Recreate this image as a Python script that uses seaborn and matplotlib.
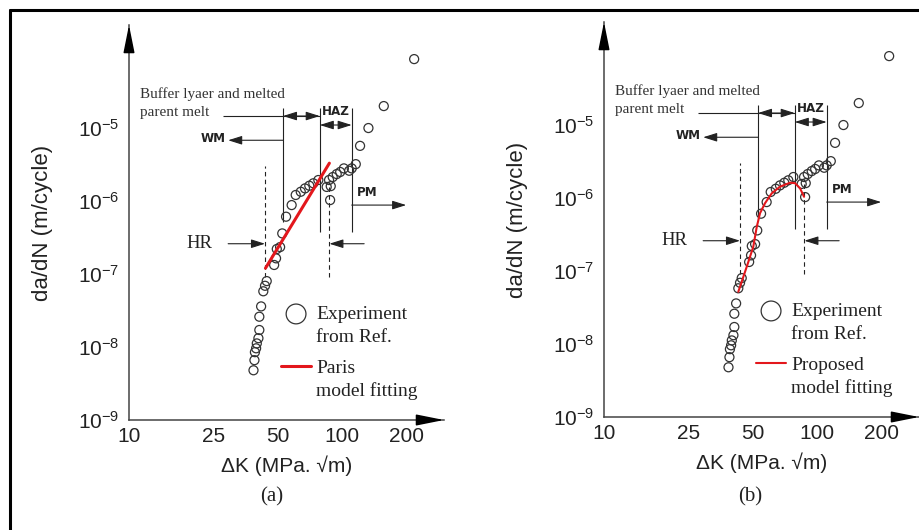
import matplotlib
matplotlib.use('Agg')
import matplotlib.pyplot as plt
import seaborn as sns
import pandas as pd
from matplotlib import font_manager
from matplotlib.lines import Line2D
from matplotlib.patches import Rectangle
from matplotlib.ticker import NullFormatter, NullLocator, LogFormatterSciNotation

# experimental crack growth data (same set in both panels)
delta_k = [38.4, 38.8, 39.0, 39.5, 39.8, 40.5, 40.9, 40.9, 41.7, 42.7,
           43.5, 44.3, 48.0, 49.0, 49.4, 51.2, 52.4, 54.6, 58.0, 60.6,
           64.0, 67.0, 70.2, 73.3, 77.4, 84.7, 86.9, 87.9, 88.5, 90.4,
           94.4, 98.0, 102, 108, 111, 116, 121.5, 133, 157, 218]
growth_rate = [4.8e-9, 6.6e-9, 8.5e-9, 9.6e-9, 1.12e-8, 1.32e-8, 1.71e-8, 2.6e-8, 3.6e-8, 5.8e-8,
               6.9e-8, 8.0e-8, 1.33e-7, 1.64e-7, 2.2e-7, 2.34e-7, 3.6e-7, 6.1e-7, 8.8e-7, 1.21e-6,
               1.34e-6, 1.49e-6, 1.62e-6, 1.75e-6, 1.94e-6, 1.56e-6, 1.94e-6, 1.03e-6, 1.6e-6, 2.13e-6,
               2.34e-6, 2.5e-6, 2.8e-6, 2.6e-6, 2.8e-6, 3.2e-6, 5.7e-6, 1.0e-5, 2.0e-5, 8.8e-5]

# Paris law fit (straight line on log-log)
paris_dk = [43.7, 87.2]
paris_rate = [1.2e-7, 3.3e-6]

# proposed model fit
proposed_dk = [42.7, 46.8, 50.2, 52.1, 54.0, 57.0, 61.3, 67.0, 74.7, 78.8, 83.2, 86.9]
proposed_rate = [5.2e-8, 1.15e-7, 2.15e-7, 4.0e-7, 6.2e-7, 8.5e-7, 1.16e-6, 1.43e-6,
                 1.62e-6, 1.6e-6, 1.36e-6, 1.04e-6]

x_major = [10, 25, 50, 100, 200]
x_minor = [15, 20, 30, 35, 40, 60, 70, 80, 90, 120, 140, 160, 180]
y_major = [1e-9, 1e-8, 1e-7, 1e-6, 1e-5]

# zone markers
zone_edges = [52.8, 78.6, 111]
hr_edges = [43.5, 87.2]

sns.set_style('white')
plt.rcParams['font.family'] = ['Liberation Sans', 'DejaVu Sans']
plt.rcParams['mathtext.fontset'] = 'custom'
plt.rcParams['mathtext.rm'] = 'Liberation Sans'
plt.rcParams['mathtext.it'] = 'Liberation Sans:italic'

names = {f.name for f in font_manager.fontManager.ttflist}
narrow = 'Liberation Sans Narrow' if 'Liberation Sans Narrow' in names else 'DejaVu Sans'
serif = ['Liberation Serif', 'DejaVu Serif']
ink = '#222222'


def arrow(ax, start, end, style='-|>'):
    ax.annotate('', xy=end, xytext=start,
                arrowprops=dict(arrowstyle=style + ',head_length=0.7,head_width=0.22',
                                color=ink, lw=0.8, shrinkA=0, shrinkB=0,
                                mutation_scale=12))


def zone_label(ax, x, y, s):
    ax.text(x, y, s, family=narrow, fontweight='bold', fontstretch='condensed',
            fontsize=9.5, color=ink, ha='center', va='center')


def draw_panel(ax, fit_dk, fit_rate, fit_lw, fit_label):
    df = pd.DataFrame({'dk': delta_k, 'rate': growth_rate})
    sns.scatterplot(data=df, x='dk', y='rate', ax=ax, s=42, color='#333333',
                    linewidth=0.9, legend=False, zorder=3)
    pts = ax.collections[-1]
    pts.set_facecolor('none')
    pts.set_edgecolor('#333333')

    sns.lineplot(x=fit_dk, y=fit_rate, ax=ax, color='#e3171c', lw=fit_lw,
                 sort=False, estimator=None, zorder=4)
    fit_line = ax.lines[-1]

    ax.set_xscale('log')
    ax.set_yscale('log')
    ax.set_xlim(10, 301)
    ax.set_ylim(1e-9, 2.58e-4)

    ax.set_xticks(x_major)
    ax.set_xticklabels([str(v) for v in x_major])
    ax.set_xticks(x_minor, minor=True)
    ax.xaxis.set_minor_formatter(NullFormatter())
    ax.set_yticks(y_major)
    ax.yaxis.set_major_formatter(LogFormatterSciNotation())
    ax.yaxis.set_minor_locator(NullLocator())
    ax.tick_params(axis='both', which='both', direction='in', length=4, width=0.8,
                   color='#444444', labelsize=15, labelcolor=ink)
    ax.tick_params(axis='x', pad=5)
    ax.tick_params(axis='y', pad=7)

    for side in ['top', 'right']:
        ax.spines[side].set_visible(False)
    for side in ['left', 'bottom']:
        ax.spines[side].set_color('#444444')
        ax.spines[side].set_linewidth(1.1)

    # axis arrowheads
    for xy, xyt in [((1, 0), (0.93, 0)), ((0, 1), (0, 0.95))]:
        ax.annotate('', xy=xy, xytext=xyt, xycoords='axes fraction',
                    arrowprops=dict(arrowstyle='-|>,head_length=1.0,head_width=0.2',
                                    color='black', lw=1.1, shrinkA=0, shrinkB=0,
                                    mutation_scale=17), annotation_clip=False)

    ax.set_xlabel('ΔK (MPa. √m)', fontsize=15, color=ink, labelpad=7)
    ax.set_ylabel('da/dN (m/cycle)', fontsize=16, color=ink, labelpad=18)

    # zone annotations
    ax.vlines(hr_edges[0], 9.1e-8, 3.0e-6, colors=ink, lw=0.8, linestyles=(0, (4, 3)))
    ax.vlines(hr_edges[1], 9.1e-8, 1.8e-6, colors=ink, lw=0.8, linestyles=(0, (4, 3)))
    ax.vlines(zone_edges[0], 5.2e-7, 1.88e-5, colors=ink, lw=0.8)
    ax.vlines(zone_edges[1:], 3.8e-7, 1.88e-5, colors=ink, lw=0.8)
    ax.hlines(1.46e-5, 27.6, zone_edges[1], colors=ink, lw=0.8)
    arrow(ax, (zone_edges[0], 1.46e-5), (zone_edges[1], 1.46e-5), '<|-|>')
    arrow(ax, (zone_edges[1], 1.1e-5), (zone_edges[2], 1.1e-5), '<|-|>')
    arrow(ax, (zone_edges[0], 6.8e-6), (29.2, 6.8e-6))
    arrow(ax, (zone_edges[2], 8.8e-7), (200, 8.8e-7))
    arrow(ax, (29.2, 2.6e-7), (hr_edges[0], 2.6e-7))
    arrow(ax, (127, 2.6e-7), (hr_edges[1], 2.6e-7))

    ax.text(11.3, 2.9e-5, 'Buffer lyaer and melted', family=serif, fontsize=11,
            color='#333333', ha='left', va='center')
    ax.text(11.3, 1.65e-5, 'parent melt', family=serif, fontsize=11,
            color='#333333', ha='left', va='center')
    zone_label(ax, 93.2, 1.66e-5, 'HAZ')
    zone_label(ax, 24.8, 7.1e-6, 'WM')
    zone_label(ax, 131, 1.29e-6, 'PM')
    ax.text(21.5, 2.66e-7, 'HR', family=serif, fontsize=13.5, color=ink,
            ha='center', va='center')

    # legend, split in two so the key sits on the first text line
    blank = Rectangle((0, 0), 1, 1, visible=False)
    common = dict(loc='upper left', frameon=False, handlelength=1.55, handletextpad=0.26,
                  borderpad=0, borderaxespad=0, labelspacing=0.26,
                  prop=dict(family=serif, size=14), labelcolor=ink)
    leg1 = ax.legend([pts, blank], ['Experiment', 'from Ref.'], markerscale=2.2,
                     bbox_to_anchor=(0.4825, 0.29), **common)
    ax.add_artist(leg1)
    ax.legend([fit_line, blank], [fit_label, 'model fitting'],
              bbox_to_anchor=(0.4825, 0.154), **common)


fig = plt.figure(figsize=(9.2, 5.3), dpi=100)
ax_a = fig.add_axes([129 / 920, 1 - 420 / 530, 315 / 920, 395 / 530])
ax_b = fig.add_axes([604 / 920, 1 - 417 / 530, 315 / 920, 395 / 530])

draw_panel(ax_a, paris_dk, paris_rate, 2.2, 'Paris')
draw_panel(ax_b, proposed_dk, proposed_rate, 1.5, 'Proposed')

fig.text(272 / 920, 1 - 497 / 530, '(a)', family=serif, fontsize=15, color=ink,
         ha='center', va='center')
fig.text(750 / 920, 1 - 497 / 530, '(b)', family=serif, fontsize=15, color=ink,
         ha='center', va='center')

# page frame (left and top edges visible in the original crop)
fig.add_artist(Line2D([10 / 920, 10 / 920], [0, 1 - 10 / 530], transform=fig.transFigure,
                      color='black', lw=2.2))
fig.add_artist(Line2D([10 / 920, 1], [1 - 10 / 530, 1 - 10 / 530], transform=fig.transFigure,
                      color='black', lw=2.2))

fig.savefig('out.png', dpi=100)
